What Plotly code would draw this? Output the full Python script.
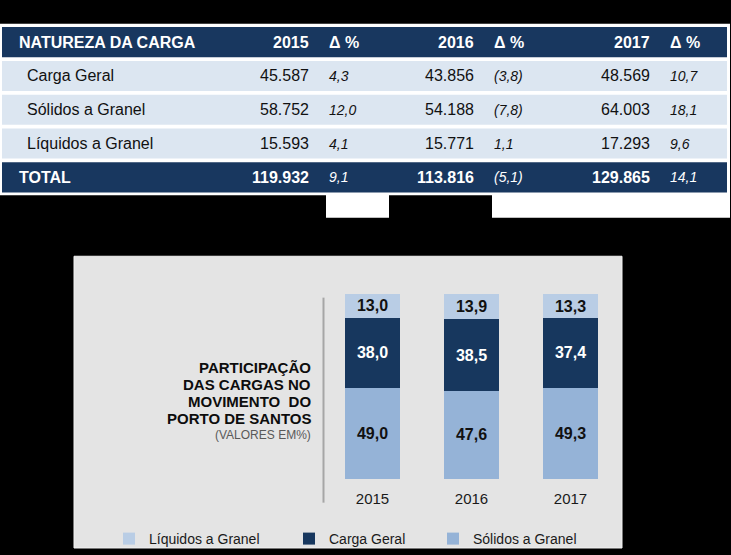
import plotly.graph_objects as go

W, H = 731, 555
FONT = "Arial, Liberation Sans, sans-serif"

# ---------------- table data ----------------
table_title = "NATUREZA DA CARGA"
table_years = ["2015", "2016", "2017"]
delta_header = "Δ %"
cargo_types = ["Carga Geral", "Sólidos a Granel", "Líquidos a Granel"]
tons_2015 = [45587, 58752, 15593]
tons_2016 = [43856, 54188, 15771]
tons_2017 = [48569, 64003, 17293]
delta_2015 = [4.3, 12.0, 4.1]
delta_2016 = [-3.8, -7.8, 1.1]
delta_2017 = [10.7, 18.1, 9.6]
total_label = "TOTAL"
total_tons = [119932, 113816, 129865]
total_delta = [9.1, -5.1, 14.1]

# ---------------- chart data ----------------
years = ["2015", "2016", "2017"]
solidos = [49.0, 47.6, 49.3]
carga_geral = [38.0, 38.5, 37.4]
liquidos = [13.0, 13.9, 13.3]
series_names = ["Sólidos a Granel", "Carga Geral", "Líquidos a Granel"]
chart_title_lines = ["PARTICIPAÇÃO", "DAS CARGAS NO", "MOVIMENTO  DO", "PORTO DE SANTOS"]
chart_subtitle = "(VALORES EM%)"

# ---------------- styles ----------------
NAVY = "#18375f"
ROW_BG = "#dce6f1"
C_SOL = "#95b3d7"
C_CARGA = "#17375e"
C_LIQ = "#b9cde5"
PANEL = "#e4e4e4"
TXT = "#111111"


def fx(x):
    return x / W


def fy(y):
    return 1 - y / H


def fmt_int(v):
    return f"{v:,}".replace(",", ".")


def fmt_pct(v):
    s = f"{abs(v):.1f}".replace(".", ",")
    return f"({s})" if v < 0 else s


def fmt_dec(v):
    return f"{v:.1f}".replace(".", ",")


shapes = []
annotations = []

# white table background + tabs below
shapes.append(dict(type="rect", xref="paper", yref="paper", x0=fx(0), x1=fx(730),
                   y0=fy(198), y1=fy(24), fillcolor="white", line_width=0, layer="below"))
for a, b in [(326, 389), (492, 730)]:
    shapes.append(dict(type="rect", xref="paper", yref="paper", x0=fx(a), x1=fx(b),
                       y0=fy(221), y1=fy(197), fillcolor="white", line_width=0, layer="below"))

# table rows
row_top0, row_pitch, row_h = 27.5, 34.3, 30.5
row_x0, row_x1 = 2, 727
num_right = [311, 476.5, 652]
delta_left = [327, 492, 668]

body_rows = []
for i, name in enumerate(cargo_types):
    body_rows.append((name, [tons_2015[i], tons_2016[i], tons_2017[i]],
                      [delta_2015[i], delta_2016[i], delta_2017[i]]))

all_rows = [("header", None)] + [("body", r) for r in body_rows] + [("total", None)]

for ri, (kind, data) in enumerate(all_rows):
    top = row_top0 + ri * row_pitch
    bot = top + row_h
    yc = fy((top + bot) / 2)
    fill = NAVY if kind in ("header", "total") else ROW_BG
    shapes.append(dict(type="rect", xref="paper", yref="paper", x0=fx(row_x0), x1=fx(row_x1),
                       y0=fy(bot), y1=fy(top), fillcolor=fill, line_width=0, layer="below"))
    if kind == "header":
        label, nums, deltas = table_title, table_years, [delta_header] * 3
        lx, color, bold_nums, ital = 16.5, "white", True, False
    elif kind == "total":
        label, nums, deltas = total_label, [fmt_int(v) for v in total_tons], [fmt_pct(v) for v in total_delta]
        lx, color, bold_nums, ital = 16.5, "white", True, True
    else:
        label, nums, deltas = data[0], [fmt_int(v) for v in data[1]], [fmt_pct(v) for v in data[2]]
        lx, color, bold_nums, ital = 25, TXT, False, True
    label_txt = f"<b>{label}</b>" if kind != "body" else label
    annotations.append(dict(xref="paper", yref="paper", x=fx(lx), y=yc, xanchor="left", yanchor="middle",
                            text=label_txt, showarrow=False, font=dict(family=FONT, size=16, color=color)))
    for k in range(3):
        t = f"<b>{nums[k]}</b>" if bold_nums else nums[k]
        annotations.append(dict(xref="paper", yref="paper", x=fx(num_right[k]), y=yc, xanchor="right",
                                yanchor="middle", text=t, showarrow=False,
                                font=dict(family=FONT, size=16, color=color)))
        if ital:
            dt = f"<i>{deltas[k]}</i>"
            dsize = 14
        else:
            dt = f"<b>{deltas[k]}</b>"
            dsize = 16
        annotations.append(dict(xref="paper", yref="paper", x=fx(delta_left[k]), y=yc, xanchor="left",
                                yanchor="middle", text=dt, showarrow=False,
                                font=dict(family=FONT, size=dsize, color=color)))

# chart panel
shapes.append(dict(type="rect", xref="paper", yref="paper", x0=fx(74), x1=fx(622),
                   y0=fy(556), y1=fy(260), fillcolor=PANEL, line=dict(color="#f2f2f2", width=1),
                   layer="below"))
# separator line
shapes.append(dict(type="line", xref="paper", yref="paper", x0=fx(323.5), x1=fx(323.5),
                   y0=fy(510), y1=fy(302), line=dict(color="#a6a6a6", width=2), layer="below"))

# chart title block
title_y = [373, 390.3, 407.2, 424.5]
for t, yy in zip(chart_title_lines, title_y):
    annotations.append(dict(xref="paper", yref="paper", x=fx(313), y=fy(yy), xanchor="right",
                            yanchor="middle", text=f"<b>{t}</b>", showarrow=False,
                            font=dict(family=FONT, size=15, color="#0d0d0d")))
annotations.append(dict(xref="paper", yref="paper", x=fx(313), y=fy(441), xanchor="right",
                        yanchor="middle", text=chart_subtitle, showarrow=False,
                        font=dict(family=FONT, size=12, color="#595959")))

fig = go.Figure()
series = [
    (series_names[0], solidos, C_SOL, "#111111", 110),
    (series_names[1], carga_geral, C_CARGA, "#ffffff", 99),
    (series_names[2], liquidos, C_LIQ, "#111111", 135),
]
for name, vals, col, tcol, lw in series:
    fig.add_trace(go.Bar(
        name=name, x=years, y=vals, width=0.556,
        marker=dict(color=col, line=dict(width=0)),
        text=[fmt_dec(v) for v in vals], textposition="inside", insidetextanchor="middle",
        constraintext="none",
        textfont=dict(family=FONT, size=16, color=tcol, weight="bold"),
        legendwidth=lw, hoverinfo="skip",
    ))

fig.update_layout(
    width=W, height=H, margin=dict(l=0, r=0, t=0, b=0),
    paper_bgcolor="black", plot_bgcolor="rgba(0,0,0,0)",
    barmode="stack", uniformtext=dict(mode=False),
    shapes=shapes, annotations=annotations,
    showlegend=True,
    legend=dict(orientation="h", x=fx(109), xanchor="left", y=fy(547), yanchor="middle",
                traceorder="reversed", bgcolor="rgba(0,0,0,0)",
                font=dict(family=FONT, size=14, color="#1a1a1a")),
    xaxis=dict(domain=[fx(323), fx(620)], range=[-0.5, 2.5], type="category",
               showgrid=False, zeroline=False, showline=False, ticks="",
               tickfont=dict(family=FONT, size=15, color="#1a1a1a"), ticklabelstandoff=9,
               fixedrange=True),
    yaxis=dict(domain=[fy(486), fy(298)], range=[0, 100], visible=False, fixedrange=True),
)

fig.write_html("out.html", config={"displayModeBar": False},
               post_script="document.body.style.margin='0px';document.body.style.background='black';"
                           "document.documentElement.style.overflow='hidden';")
